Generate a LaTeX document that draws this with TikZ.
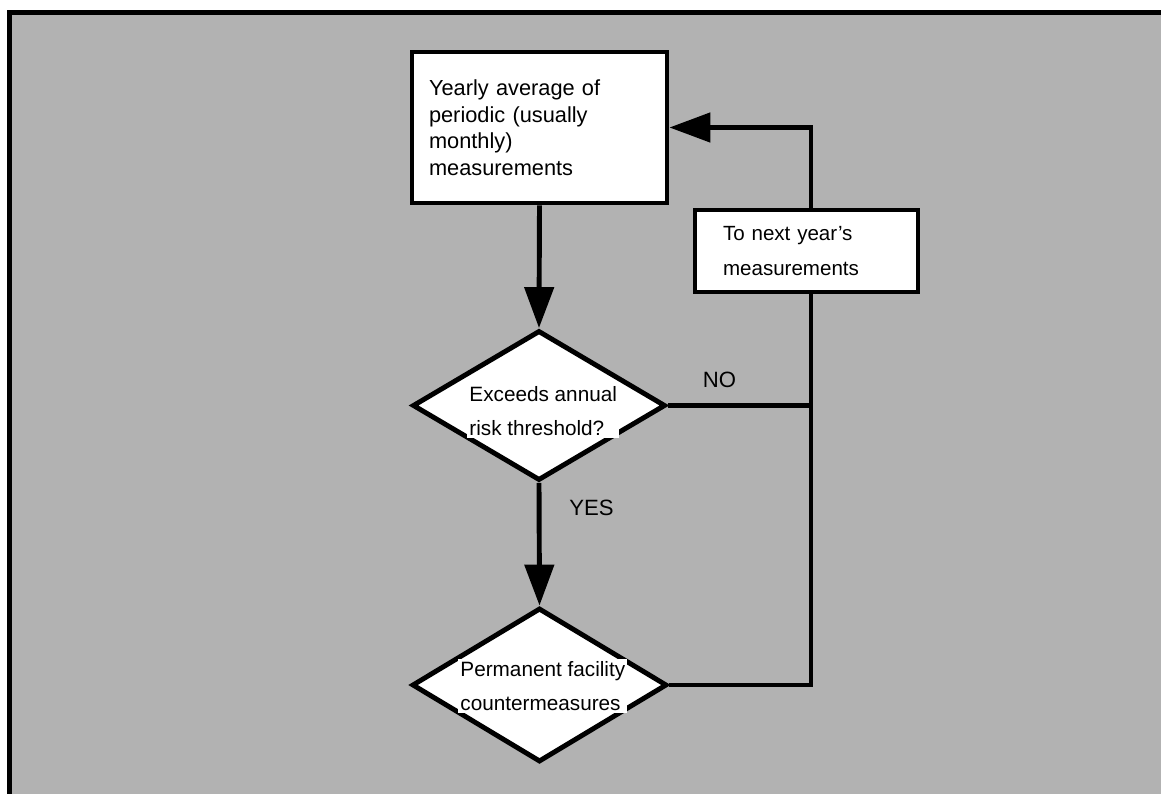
\documentclass[tikz,border=0pt]{standalone}
\usepackage{fontspec}
\setmainfont{Liberation Sans}
\usetikzlibrary{shapes.geometric, arrows.meta}

\begin{document}
\begin{tikzpicture}[x = 0.02cm, y = -0.02cm,
        line width = 2.8pt,
        every node/.style = {inner sep = 0},
        stepbox/.style = {draw, fill = white, line width = 2.8pt},
        decision/.style = {draw, fill = white, shape = diamond, line width = 2.8pt},
        flow/.style = {-{Triangle[length = 0.82cm, width = 0.58cm]}},
        avgtext/.style = {font = \fontsize{12.4}{15.1}\selectfont, align = left},
        steptext/.style = {font = \fontsize{11.7}{19.4}\selectfont, align = left},
        midtext/.style = {font = \fontsize{11.8}{19.8}\selectfont, align = left, fill = white, inner sep = 0.04cm},
        flowlabel/.style = {font = \fontsize{12.6}{15}\selectfont}
    ]
    \useasboundingbox (0, 0) rectangle (1161, 794);
    \fill [black!30] (10, 12) rectangle (1161, 794);
    \draw [line width = 0.1cm] (9.5, 794) |- (1161, 12.5);

    \node [stepbox, avgtext, text width = 4.42cm, minimum width = 5.1cm, minimum height = 3.02cm]
        (avg) at (539.5, 127.5) {Yearly average of\\periodic (usually\\monthly)\\measurements};
    \node [decision, minimum width = 5.06cm, minimum height = 3cm] (q1) at (539, 405.5) {};
    \node [decision, minimum width = 5.1cm, minimum height = 3.08cm] (fix) at (539.5, 685) {};
    \node [stepbox, steptext, text width = 3.34cm, minimum width = 4.46cm, minimum height = 1.64cm]
        (next) at (806.5, 251) {To next year’s\\measurements};

    \node [midtext, anchor = west] (q1 text) at (465, 411) {Exceeds annual\\risk threshold?};
    \node [midtext, anchor = west] (fix text) at (456, 686) {Permanent facility\\countermeasures};

    \coordinate (bus) at (811, 0);

    \draw [flow] (avg.south) -- (q1.north);
    \draw [flow] (q1.south) -- (fix.north) node (yes) [flowlabel, pos = 0.2, xshift = 1.05cm] {YES};
    \draw (q1.east) -- (q1.east -| bus) node (no) [flowlabel, pos = 0.36, yshift = 0.52cm] {NO};
    \draw (fix.east) -| (next.south -| bus);
    \draw [flow] (next.north -| bus) |- (avg.east);
\end{tikzpicture}
\end{document}
